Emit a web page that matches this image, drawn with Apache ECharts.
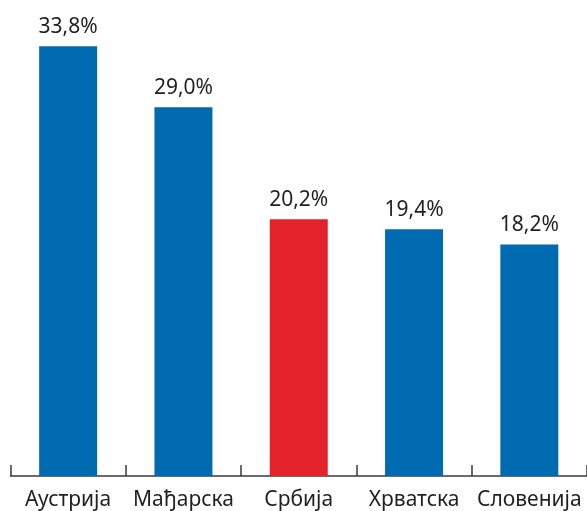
<!DOCTYPE html>
<html>
<head>
<meta charset="utf-8">
<script src="https://cdn.jsdelivr.net/npm/echarts@6/dist/echarts.min.js"></script>
<style>
  html, body { margin: 0; padding: 0; background: #fff; }
  #chart { width: 587px; height: 511px; }
</style>
</head>
<body>
<div id="chart"></div>
<script>
// Country names along the category axis
const countries = ['Аустрија', 'Мађарска', 'Србија', 'Хрватска', 'Словенија'];
// Share in percent, one per country
const shares = [33.8, 29.0, 20.2, 19.4, 18.2];
// Bar fill per country (Serbia highlighted)
const barColors = ['#006bb1', '#006bb1', '#e3222a', '#006bb1', '#006bb1'];

const chart = echarts.init(document.getElementById('chart'));
const fontFamily = '"Noto Sans", "Open Sans", sans-serif';

chart.setOption({
  animation: false,
  grid: { left: 10.5, right: 0, top: 31, bottom: 32, containLabel: false },
  xAxis: {
    type: 'category',
    data: countries,
    axisLine: { show: true, lineStyle: { color: '#3a3a3a', width: 1.5 } },
    axisTick: { show: true, length: 11, inside: true, lineStyle: { color: '#3a3a3a', width: 1.5 } },
    axisLabel: { color: '#231f20', fontSize: 21, fontFamily: fontFamily, margin: 14, interval: 0 }
  },
  yAxis: {
    type: 'value',
    min: 0,
    max: 35,
    show: false,
    splitLine: { show: false }
  },
  series: [{
    type: 'bar',
    barWidth: 58,
    data: shares.map((v, i) => ({ value: v, itemStyle: { color: barColors[i] } })),
    label: {
      show: true,
      position: 'top',
      distance: 9,
      color: '#231f20',
      fontSize: 21,
      fontFamily: fontFamily,
      formatter: p => p.value.toFixed(1).replace('.', ',') + '%'
    }
  }]
});
</script>
</body>
</html>
